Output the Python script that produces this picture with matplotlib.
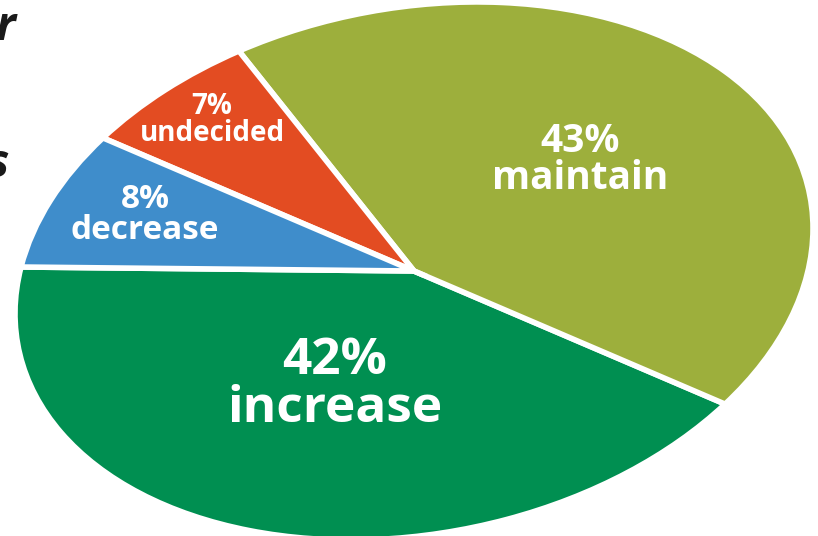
# opinion pie chart, drawn as a tilted ellipse

import matplotlib.pyplot as plt
from matplotlib.transforms import Affine2D

labels = ["increase", "maintain", "undecided", "decrease"]
shares = [42, 43, 7, 8]
colors = ["#008F51", "#9DAF3C", "#E34C22", "#3F8DCB"]
label_sizes = [37, 28, 20, 24]
# label centres in pixels from top-left
label_xy = [(335, 385), (580, 160), (212, 120), (145, 215)]

W, H = 818, 536
fig = plt.figure(figsize=(W / 100, H / 100), dpi=100)
ax = fig.add_axes([0, 0, 1, 1])

wedges, _ = ax.pie(shares, colors=colors, startangle=163, counterclock=True,
                   wedgeprops=dict(edgecolor="white", linewidth=4))

ax.set_aspect("auto")
ax.set_xlim(0, W)
ax.set_ylim(0, H)

# squash the unit pie into an ellipse and tilt it a little
squash = Affine2D().scale(403, 263).rotate_deg(10.7).translate(414, H - 271)
for w in wedges:
    w.set_transform(squash + ax.transData)

for lab, val, fs, (x, y) in zip(labels, shares, label_sizes, label_xy):
    ax.text(x, H - y, f"{val}%\n{lab}", ha="center", va="center",
            color="white", fontsize=fs, fontweight="bold", family="Open Sans",
            linespacing=0.95)

# cropped title letters on the left edge
fig.text(15 / W, 1 - 28 / H, "r", ha="right", va="center", fontsize=34,
         fontweight="bold", style="italic", family="Open Sans", color="#1a1a1a")
fig.text(9 / W, 1 - 165 / H, "s", ha="right", va="center", fontsize=34,
         fontweight="bold", style="italic", family="Open Sans", color="#1a1a1a")

fig.savefig("out.png", dpi=100)
